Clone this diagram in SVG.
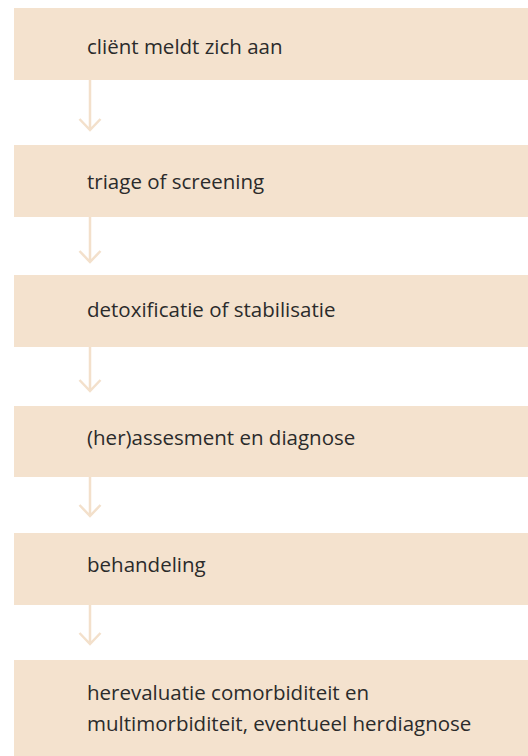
<svg xmlns="http://www.w3.org/2000/svg" width="528" height="756" viewBox="0 0 528 756">
<style>
.box{fill:#F4E2CE}
.lbl{font-family:"Open Sans","Noto Sans",sans-serif;font-size:20.5px;fill:#2b2b2b}
.arr{fill:none;stroke:#F3E0CB;stroke-width:2.5}
</style>
<rect width="528" height="756" fill="#fff"/>
<g id="connectors">
<path class="arr" d="M90 80V130M79.5 119L90 130L100.5 119"/>
<path class="arr" d="M90 217V262M79.5 251L90 262L100.5 251"/>
<path class="arr" d="M90 347V391M79.5 380L90 391L100.5 380"/>
<path class="arr" d="M90 477V516M79.5 505L90 516L100.5 505"/>
<path class="arr" d="M90 605V644M79.5 633L90 644L100.5 633"/>
</g>
<g id="n1"><rect class="box" x="14" y="8" width="514" height="72"/><text class="lbl" x="87" y="54">cliënt meldt zich aan</text></g>
<g id="n2"><rect class="box" x="14" y="145" width="514" height="72"/><text class="lbl" x="87" y="189">triage of screening</text></g>
<g id="n3"><rect class="box" x="14" y="275" width="514" height="72"/><text class="lbl" x="87" y="316.5">detoxificatie of stabilisatie</text></g>
<g id="n4"><rect class="box" x="14" y="406" width="514" height="71"/><text class="lbl" x="87" y="445">(her)assesment en diagnose</text></g>
<g id="n5"><rect class="box" x="14" y="533" width="514" height="72"/><text class="lbl" x="87" y="572">behandeling</text></g>
<g id="n6"><rect class="box" x="14" y="660" width="514" height="96"/><text class="lbl" x="87" y="700">herevaluatie comorbiditeit en</text><text class="lbl" x="87" y="731">multimorbiditeit, eventueel herdiagnose</text></g>
</svg>
